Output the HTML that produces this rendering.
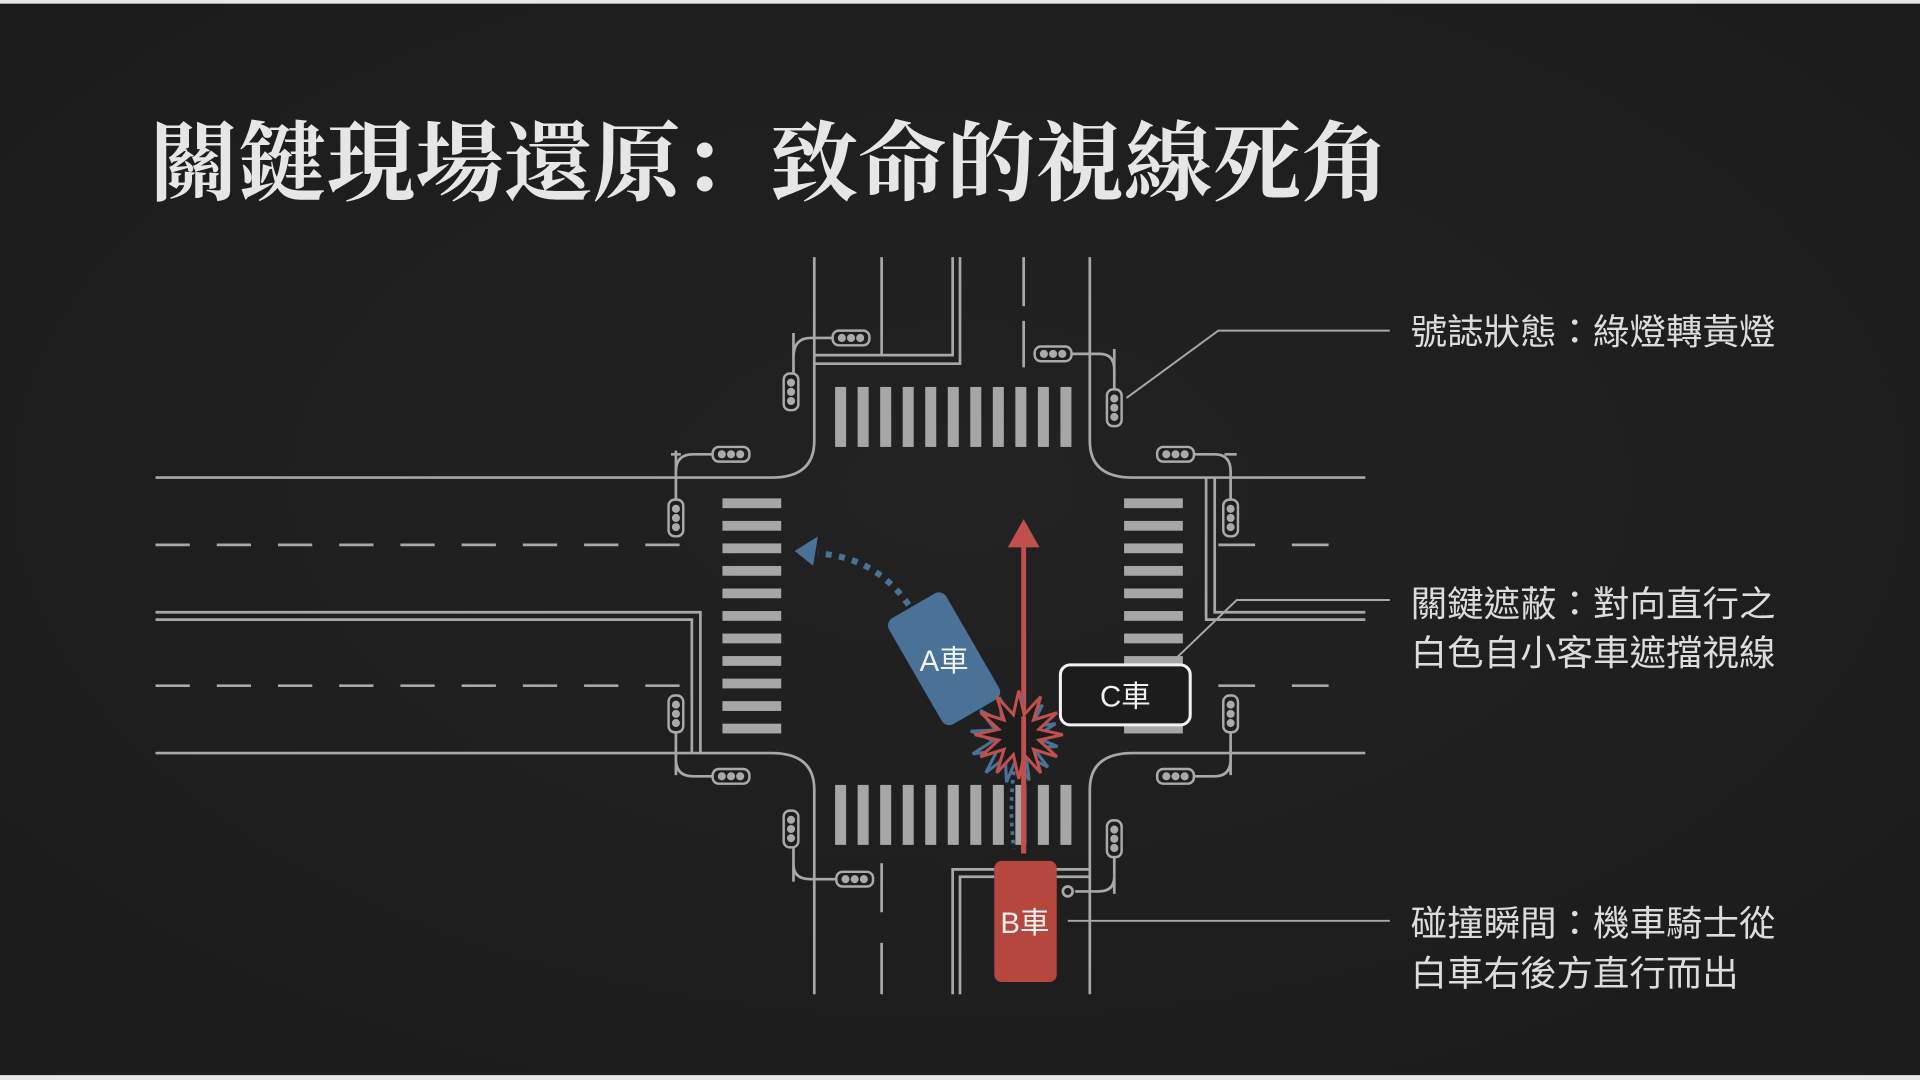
<!DOCTYPE html>
<html><head><meta charset="utf-8"><style>
html,body{margin:0;padding:0;background:#1e1e1e;}
svg{display:block}
</style></head><body>
<svg width="1920" height="1080" viewBox="0 0 1568 882" preserveAspectRatio="none" xmlns="http://www.w3.org/2000/svg">
<defs>
<radialGradient id="bg" cx="50%" cy="45%" r="75%"><stop offset="0" stop-color="#222"/><stop offset="1" stop-color="#1b1b1b"/></radialGradient>
<g id="sh"><rect x="0" y="0" width="30" height="12" rx="5" fill="#1e1e1e" stroke="#aaa" stroke-width="2"/><circle cx="7.5" cy="6" r="3.3" fill="#aaa"/><circle cx="15" cy="6" r="3.3" fill="#aaa"/><circle cx="22.5" cy="6" r="3.3" fill="#aaa"/></g>
<g id="sv"><rect x="0" y="0" width="12" height="30" rx="5" fill="#1e1e1e" stroke="#aaa" stroke-width="2"/><circle cx="6" cy="7.5" r="3.3" fill="#aaa"/><circle cx="6" cy="15" r="3.3" fill="#aaa"/><circle cx="6" cy="22.5" r="3.3" fill="#aaa"/></g>
</defs>
<rect width="1568" height="882" fill="url(#bg)"/>
<rect width="1568" height="3" fill="#e8e8e8"/>
<rect y="878" width="1568" height="4" fill="#e8e8e8"/>

<text x="122" y="158" font-family="'Liberation Serif','Noto Serif CJK SC',serif" font-weight="bold" font-size="71" fill="#e6e6e6" textLength="1013" lengthAdjust="spacingAndGlyphs">關鍵現場還原：致命的視線死角</text>

<g stroke="#a8a8a8" stroke-width="2.2" fill="none">
<!-- road edges -->
<path d="M665 210 V360 Q665 390 630 390 H127"/>
<path d="M890 210 V360 Q890 390 925 390 H1115"/>
<path d="M665 812 V645 Q665 615 630 615 H127"/>
<path d="M890 812 V645 Q890 615 925 615 H1115"/>
<!-- top lanes -->
<path d="M720 210 V290"/>
<path d="M778 210 V290 H665"/>
<path d="M784 210 V297 H665"/>
<path d="M836 210 V250 M836 262 V300"/>
<!-- bottom lanes -->
<path d="M720 705 V745 M720 770 V812"/>
<path d="M778 812 V710 H812"/>
<path d="M784 812 V716 H812"/>
<path d="M862 710 H890 M862 716 H890"/>
<!-- left lanes -->
<path d="M127 445 H575" stroke-dasharray="28 22"/>
<path d="M127 560 H560" stroke-dasharray="28 22"/>
<path d="M127 500 H572 V615"/>
<path d="M127 506 H565 V615"/>
<!-- right lanes -->
<path d="M995 445 H1115" stroke-dasharray="30 30"/>
<path d="M995 560 H1115" stroke-dasharray="30 30"/>
<path d="M985 390 V506 H1115"/>
<path d="M992 390 V500 H1115"/>
<!-- signal poles -->
<path d="M648 272 V305 M648 292 Q648 276 662 276 H680"/>
<path d="M873 289 H898 Q910 289 910 302 V318 M910 285 V300"/>
<path d="M552 368 V408 M552 385 Q552 371 566 371 H582 M548 371 H556"/>
<path d="M552 598 V633 M552 620 Q552 634 566 634 H582"/>
<path d="M973 371 H992 Q1005 371 1005 385 V408 M1000 371 H1010"/>
<path d="M1005 598 V633 M1005 620 Q1005 634 992 634 H973"/>
<path d="M648 692 V720 M648 706 Q648 718 662 718 H683"/>
<path d="M910 700 V730 M910 716 Q910 728 897 728 H878"/>
<circle cx="872" cy="728" r="4"/>
<!-- leaders -->
<path d="M920 325 L995 270 H1135" stroke-width="1.6"/>
<path d="M958 540 L1010 490 H1135" stroke-width="1.6"/>
<path d="M872 752 H1135" stroke-width="1.6"/>
</g>

<g>
<use href="#sh" x="680" y="270"/><use href="#sv" x="640" y="305"/>
<use href="#sh" x="845" y="283"/><use href="#sv" x="904" y="318"/>
<use href="#sh" x="582" y="365"/><use href="#sv" x="546" y="408"/>
<use href="#sv" x="546" y="568"/><use href="#sh" x="582" y="628"/>
<use href="#sh" x="945" y="365"/><use href="#sv" x="999" y="408"/>
<use href="#sv" x="999" y="568"/><use href="#sh" x="945" y="628"/>
<use href="#sv" x="640" y="662"/><use href="#sh" x="683" y="712"/>
<use href="#sv" x="904" y="670"/>
</g>

<!-- crosswalks -->
<g fill="#a6a6a6">
<g id="cwt"><rect x="682" y="316" width="9" height="49"/><rect x="700.4" y="316" width="9" height="49"/><rect x="718.8" y="316" width="9" height="49"/><rect x="737.2" y="316" width="9" height="49"/><rect x="755.6" y="316" width="9" height="49"/><rect x="774" y="316" width="9" height="49"/><rect x="792.4" y="316" width="9" height="49"/><rect x="810.8" y="316" width="9" height="49"/><rect x="829.2" y="316" width="9" height="49"/><rect x="847.6" y="316" width="9" height="49"/><rect x="866" y="316" width="9" height="49"/></g>
<use href="#cwt" y="325"/>
<g id="cwl"><rect x="590" y="407" width="48" height="8"/><rect x="590" y="425.4" width="48" height="8"/><rect x="590" y="443.8" width="48" height="8"/><rect x="590" y="462.2" width="48" height="8"/><rect x="590" y="480.6" width="48" height="8"/><rect x="590" y="499" width="48" height="8"/><rect x="590" y="517.4" width="48" height="8"/><rect x="590" y="535.8" width="48" height="8"/><rect x="590" y="554.2" width="48" height="8"/><rect x="590" y="572.6" width="48" height="8"/><rect x="590" y="591" width="48" height="8"/></g>
<use href="#cwl" x="328"/>
</g>

<!-- red arrow -->
<line x1="836" y1="697" x2="836" y2="442" stroke="#c0504d" stroke-width="4"/>
<polygon points="836,424 823,447 849,447" fill="#c0504d"/>

<!-- blue dotted path -->
<path d="M742 494 Q715 455 668 452" fill="none" stroke="#4a7196" stroke-width="5" stroke-dasharray="5 6"/>
<polygon points="649,450 668,438 664,462" fill="#4a7196"/>
<path d="M828 630 Q824 660 828 693" fill="none" stroke="#4a7196" stroke-width="3" stroke-dasharray="3 4"/>

<!-- car A -->
<g transform="translate(771,538) rotate(-30)">
<rect x="-27" y="-50" width="54" height="100" rx="7" fill="#4a7196"/>
<text x="0" y="10" text-anchor="middle" font-family="'Liberation Sans','Noto Sans CJK TC',sans-serif" font-size="24" fill="#f0f0f0" transform="rotate(30)">A車</text>
</g>

<!-- starburst -->
<polygon transform="rotate(10 832 605) translate(-4 4)" points="868,600 848.4,604.4 863.2,618 844,612 850,631.2 836.4,616.4 832,636 827.6,616.4 814,631.2 820,612 800.8,618 815.6,604.4 796,600 815.6,595.6 800.8,582 820,588 814,568.8 827.6,583.6 832,564 836.4,583.6 850,568.8 844,588 863.2,582 848.4,595.6" fill="none" stroke="#4a7196" stroke-width="2.5"/>
<polygon points="868,600 848.4,604.4 863.2,618 844,612 850,631.2 836.4,616.4 832,636 827.6,616.4 814,631.2 820,612 800.8,618 815.6,604.4 796,600 815.6,595.6 800.8,582 820,588 814,568.8 827.6,583.6 832,564 836.4,583.6 850,568.8 844,588 863.2,582 848.4,595.6" fill="#1c1c1c" stroke="#c0504d" stroke-width="2.5"/>
<line x1="836" y1="585" x2="836" y2="697" stroke="#c0504d" stroke-width="4"/>

<!-- car B -->
<rect x="812" y="703" width="51" height="99" rx="6" fill="#b5473f"/>
<text x="837" y="762" text-anchor="middle" font-family="'Liberation Sans','Noto Sans CJK TC',sans-serif" font-size="24" fill="#f0f0f0">B車</text>

<!-- car C -->
<rect x="866" y="543" width="106" height="49" rx="8" fill="#1c1c1c" stroke="#f2f2f2" stroke-width="2.5"/>
<text x="919" y="577" text-anchor="middle" font-family="'Liberation Sans','Noto Sans CJK TC',sans-serif" font-size="24" fill="#f0f0f0">C車</text>

<g font-family="'Liberation Sans','Noto Sans CJK TC',sans-serif" font-size="29" fill="#dcdcdc">
<text x="1152" y="281" textLength="298" lengthAdjust="spacingAndGlyphs">號誌狀態：綠燈轉黃燈</text>
<text x="1152" y="503" textLength="298" lengthAdjust="spacingAndGlyphs">關鍵遮蔽：對向直行之</text>
<text x="1152" y="543" textLength="298" lengthAdjust="spacingAndGlyphs">白色自小客車遮擋視線</text>
<text x="1152" y="764" textLength="298" lengthAdjust="spacingAndGlyphs">碰撞瞬間：機車騎士從</text>
<text x="1152" y="805" textLength="268" lengthAdjust="spacingAndGlyphs">白車右後方直行而出</text>
</g>
</svg>
</body></html>
